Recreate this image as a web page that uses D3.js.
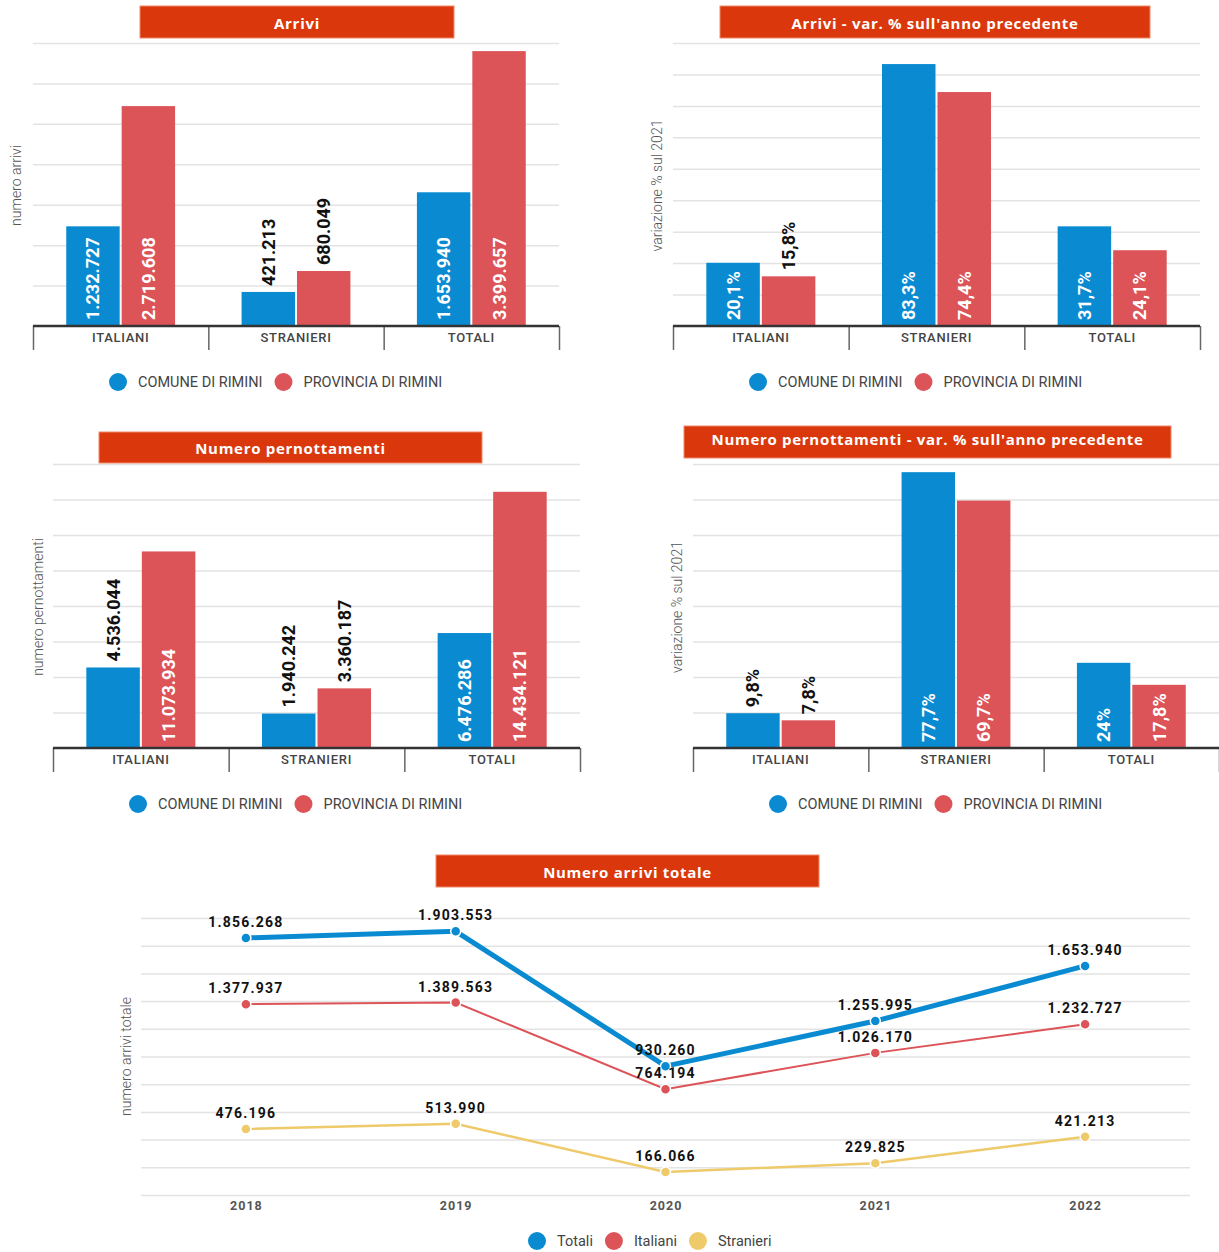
<!DOCTYPE html>
<html>
<head>
<meta charset="utf-8">
<script src="https://cdn.jsdelivr.net/npm/d3@7"></script>
<style>
  body { margin: 0; background: #fff; }
  svg { display: block; font-family: Roboto, sans-serif; }
</style>
</head>
<body>
<svg id="chart" width="1219" height="1252"></svg>
<script>
// categories and series
var categories = ["ITALIANI", "STRANIERI", "TOTALI"];
var seriesNames = ["COMUNE DI RIMINI", "PROVINCIA DI RIMINI"];

var arriviComune = [1232727, 421213, 1653940];
var arriviProvincia = [2719608, 680049, 3399657];

var arriviVarComune = [20.1, 83.3, 31.7];
var arriviVarProvincia = [15.8, 74.4, 24.1];

var pernComune = [4536044, 1940242, 6476286];
var pernProvincia = [11073934, 3360187, 14434121];

var pernVarComune = [9.8, 77.7, 24];
var pernVarProvincia = [7.8, 69.7, 17.8];

var years = ["2018", "2019", "2020", "2021", "2022"];
var lineNames = ["Totali", "Italiani", "Stranieri"];
var arriviTotali = [1856268, 1903553, 930260, 1255995, 1653940];
var arriviItaliani = [1377937, 1389563, 764194, 1026170, 1232727];
var arriviStranieri = [476196, 513990, 166066, 229825, 421213];

var blue = "#0a8bd1", red = "#dc5458", yellow = "#efca6a", titleRed = "#da380c";

var it = d3.formatLocale({ decimal: ",", thousands: ".", grouping: [3], currency: ["€", ""] });
var fmtNum = it.format(",d");
var fmtPct = function (v) { return it.format(".1~f")(v) + "%"; };

var svg = d3.select("#chart");

function titleBox(x, y, w, h, label, shift) {
    svg.append("rect")
        .attr("x", x).attr("y", y)
        .attr("width", w).attr("height", h)
        .attr("fill", titleRed)
        .attr("stroke", "#ef8a6a")
        .attr("stroke-width", 1);
    svg.append("text")
        .attr("x", x + w / 2)
        .attr("y", y + h / 2 + (shift || 0))
        .attr("dy", "0.38em")
        .attr("text-anchor", "middle")
        .attr("fill", "#fff")
        .attr("font-family", "'Open Sans', sans-serif")
        .attr("font-weight", "bold")
        .attr("font-size", "15px")
        .attr("letter-spacing", "0.7px")
        .text(label);
}

function yTitle(x, y, label) {
    svg.append("text")
        .attr("transform", "translate(" + x + "," + y + ") rotate(-90)")
        .attr("text-anchor", "middle")
        .attr("dy", "0.35em")
        .attr("fill", "#555")
        .attr("font-weight", 300)
        .style("font-size", "14px")
        .text(label);
}

function legend(x, y, names, colors) {
    var cx = x;
    names.forEach(function (n, i) {
        svg.append("circle")
            .attr("cx", cx).attr("cy", y).attr("r", 9)
            .attr("fill", colors[i]);
        var t = svg.append("text")
            .attr("x", cx + 20).attr("y", y)
            .attr("dy", "0.36em")
            .attr("fill", "#444")
            .style("font-size", "14.5px")
            .text(n);
        cx = cx + 20 + t.node().getComputedTextLength() + 21;
    });
}

function barChart(cfg) {
    var g = svg.append("g");
    var width = cfg.right - cfg.left;

    var x0 = d3.scaleBand().domain(categories).range([cfg.left, cfg.right]);
    var x1 = d3.scaleBand().domain([0, 1])
        .range([0, x0.bandwidth()])
        .paddingInner(0.036)
        .paddingOuter(0.6);
    var y = d3.scaleLinear().domain([0, cfg.max]).range([cfg.base, cfg.top]);

    // gridlines
    g.append("g")
        .attr("transform", "translate(" + cfg.left + ",0)")
        .call(d3.axisLeft(y)
            .tickValues(d3.range(cfg.step, cfg.max + cfg.step / 2, cfg.step))
            .tickSize(-width)
            .tickFormat(""))
        .call(function (s) { s.select(".domain").remove(); })
        .selectAll("line")
        .attr("stroke", "#e3e3e3")
        .attr("stroke-width", 1.5);

    var rows = categories.map(function (c, i) {
        return { cat: c, vals: [cfg.a[i], cfg.b[i]] };
    });

    var groups = g.selectAll(".grp")
        .data(rows)
        .enter().append("g")
        .attr("transform", function (d) { return "translate(" + x0(d.cat) + ",0)"; });

    groups.selectAll("rect")
        .data(function (d) { return d.vals.map(function (v, k) { return { k: k, v: v }; }); })
        .enter().append("rect")
        .attr("x", function (d) { return x1(d.k); })
        .attr("width", x1.bandwidth())
        .attr("y", function (d) { return y(d.v); })
        .attr("height", function (d) { return cfg.base - y(d.v); })
        .attr("fill", function (d) { return d.k === 0 ? blue : red; });

    // value labels: inside the bar when they fit, above it otherwise
    groups.selectAll(".lbl")
        .data(function (d) { return d.vals.map(function (v, k) { return { k: k, v: v }; }); })
        .enter().append("text")
        .attr("class", "lbl")
        .attr("text-anchor", "start")
        .attr("dy", "0.36em")
        .attr("font-weight", "bold")
        .style("font-size", "18px")
        .text(function (d) { return cfg.fmt(d.v); })
        .each(function (d) {
            var len = this.getComputedTextLength();
            var h = cfg.base - y(d.v);
            var cx = x1(d.k) + x1.bandwidth() / 2;
            var inside = h >= len + 10;
            var sy = inside ? cfg.base - 6 : y(d.v) - 6;
            d3.select(this)
                .attr("transform", "translate(" + cx + "," + sy + ") rotate(-90)")
                .attr("fill", inside ? "#fff" : "#111");
        });

    // x axis
    g.append("g")
        .attr("transform", "translate(0," + cfg.base + ")")
        .call(d3.axisBottom(x0).tickSize(0).tickPadding(7))
        .call(function (s) {
            s.select(".domain").remove();
            s.selectAll("text")
                .attr("fill", "#444")
                .attr("font-weight", 500)
                .attr("letter-spacing", "0.7px")
                .style("font-family", "Roboto, sans-serif")
                .style("font-size", "13px");
        });

    var bounds = categories.map(function (c) { return x0(c); }).concat([cfg.right]);
    g.selectAll(".sep")
        .data(bounds)
        .enter().append("line")
        .attr("x1", function (d) { return d + 0.5; })
        .attr("x2", function (d) { return d + 0.5; })
        .attr("y1", cfg.base)
        .attr("y2", cfg.base + 24)
        .attr("stroke", "#666")
        .attr("stroke-width", 1.5);

    g.append("line")
        .attr("x1", cfg.left).attr("x2", cfg.right)
        .attr("y1", cfg.base).attr("y2", cfg.base)
        .attr("stroke", "#333")
        .attr("stroke-width", 2.5);

    titleBox(cfg.tx, cfg.ty, cfg.tw, cfg.th, cfg.title, cfg.tshift);
    yTitle(cfg.yx, (cfg.top + cfg.base) / 2 + 1, cfg.ylabel);
    legend(cfg.left + 85, cfg.base + 56, seriesNames, [blue, red]);
}

barChart({
    a: arriviComune, b: arriviProvincia, fmt: fmtNum,
    left: 33, right: 559, top: 43, base: 326, max: 3500000, step: 500000,
    title: "Arrivi", tx: 140, ty: 6, tw: 314, th: 32, tshift: 1,
    ylabel: "numero arrivi", yx: 16
});

barChart({
    a: arriviVarComune, b: arriviVarProvincia, fmt: fmtPct,
    left: 673, right: 1200, top: 43, base: 326, max: 90, step: 10,
    title: "Arrivi - var. % sull'anno precedente", tx: 720, ty: 6, tw: 430, th: 32, tshift: 1,
    ylabel: "variazione % sul 2021", yx: 657
});

barChart({
    a: pernComune, b: pernProvincia, fmt: fmtNum,
    left: 53, right: 580, top: 464, base: 748, max: 16000000, step: 2000000,
    title: "Numero pernottamenti", tx: 99, ty: 432, tw: 383, th: 31, tshift: 1,
    ylabel: "numero pernottamenti", yx: 38
});

barChart({
    a: pernVarComune, b: pernVarProvincia, fmt: fmtPct,
    left: 693, right: 1219, top: 464, base: 748, max: 80, step: 10,
    title: "Numero pernottamenti - var. % sull'anno precedente", tx: 684, ty: 426, tw: 487, th: 32, tshift: -3,
    ylabel: "variazione % sul 2021", yx: 677
});

// line chart
(function () {
    var left = 141, right = 1190, top = 918, base = 1195;
    var g = svg.append("g");
    var x = d3.scalePoint().domain(years).range([left, right]).padding(0.5);
    var y = d3.scaleLinear().domain([0, 2000000]).range([base, top]);

    g.append("g")
        .attr("transform", "translate(" + left + ",0)")
        .call(d3.axisLeft(y)
            .tickValues(d3.range(0, 2000001, 200000))
            .tickSize(-(right - left))
            .tickFormat(""))
        .call(function (s) { s.select(".domain").remove(); })
        .selectAll("line")
        .attr("stroke", "#e3e3e3")
        .attr("stroke-width", 1.5);

    g.append("g")
        .attr("transform", "translate(0," + base + ")")
        .call(d3.axisBottom(x).tickSize(0).tickPadding(6))
        .call(function (s) {
            s.select(".domain").remove();
            s.selectAll("text")
                .attr("fill", "#555")
                .attr("font-weight", "bold")
                .attr("letter-spacing", "1px")
                .style("font-family", "Roboto, sans-serif")
                .style("font-size", "12.5px");
        });

    var series = [
        { name: lineNames[2], vals: arriviStranieri, color: yellow, w: 2.5 },
        { name: lineNames[1], vals: arriviItaliani, color: red, w: 2 },
        { name: lineNames[0], vals: arriviTotali, color: blue, w: 5 }
    ];

    var line = d3.line()
        .x(function (d, i) { return x(years[i]); })
        .y(function (d) { return y(d); });

    series.forEach(function (s) {
        g.append("path")
            .datum(s.vals)
            .attr("fill", "none")
            .attr("stroke", s.color)
            .attr("stroke-width", s.w)
            .attr("d", line);
    });

    series.forEach(function (s) {
        g.selectAll(null)
            .data(s.vals)
            .enter().append("circle")
            .attr("cx", function (d, i) { return x(years[i]); })
            .attr("cy", function (d) { return y(d); })
            .attr("r", 5)
            .attr("fill", s.color)
            .attr("stroke", "#fff")
            .attr("stroke-width", 1.5);
    });

    series.forEach(function (s) {
        g.selectAll(null)
            .data(s.vals)
            .enter().append("text")
            .attr("x", function (d, i) { return x(years[i]); })
            .attr("y", function (d) { return y(d) - 11; })
            .attr("text-anchor", "middle")
            .attr("fill", "#111")
            .attr("font-weight", "bold")
            .attr("letter-spacing", "1.2px")
            .style("font-size", "14px")
            .text(function (d) { return fmtNum(d); });
    });

    titleBox(436, 855, 383, 32, "Numero arrivi totale", 1);
    yTitle(126, (top + base) / 2, "numero arrivi totale");
    legend(537, 1241, lineNames, [blue, red, yellow]);
})();
</script>
</body>
</html>
